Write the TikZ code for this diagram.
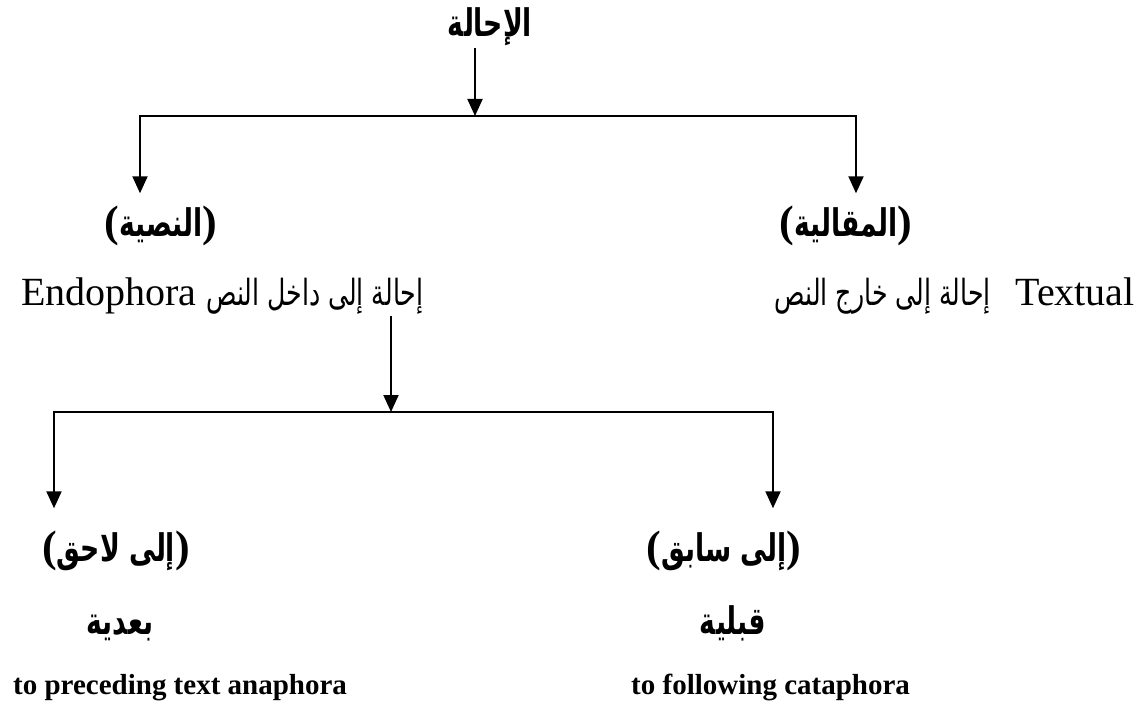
\documentclass[tikz,border=0pt]{standalone}
\usepackage{fontspec}
\setmainfont{Liberation Serif}
\newfontfamily\arabicfont[Script=Arabic,FakeStretch=0.7]{DejaVu Sans}
\TeXXeTstate=1
\usetikzlibrary{arrows.meta}
\newcommand{\prn}[1]{{\rmfamily\fontsize{44}{48}\selectfont(}\beginR #1\endR{\rmfamily\fontsize{44}{48}\selectfont)}}
\tikzset{
  lbl/.style={inner sep=2pt, anchor=base, font=\arabicfont\bfseries\fontsize{38}{42}\selectfont},
  phr/.style={inner sep=2pt, font=\arabicfont\fontsize{36}{40}\selectfont},
  lat/.style={inner sep=2pt, font=\fontsize{40}{44}\selectfont},
  eng/.style={inner sep=2pt, anchor=base west, font=\bfseries\fontsize{29}{32}\selectfont},
  arr/.style={-{Triangle[length=17pt,width=15pt]}, line width=2pt},
}

\begin{document}
\begin{tikzpicture}[x=1pt,y=-1pt]
  \useasboundingbox (0,0) rectangle (1146,706);
  % first level
  \node (ihala) at (490,37) [lbl] {\beginR الإحالة\endR};
  \node (nassiya) at (161,236) [lbl] {\prn{النصية}};
  \node (maqaliya) at (846,236) [lbl] {\prn{المقالية}};
  \node (endo) at (19,305) [lat, anchor=base west] {Endophora};
  \node (dakhil) at (204,305) [phr, anchor=base west] {\beginR إحالة إلى داخل النص\endR};
  \node (kharij) at (993,305) [phr, anchor=base east] {\beginR إحالة إلى خارج النص\endR};
  \node (textual) at (1137,305) [lat, anchor=base east] {Textual};
  % second level
  \node (lahiq) at (116,561) [lbl] {\prn{إلى لاحق}};
  \node (sabiq) at (724,561) [lbl] {\prn{إلى سابق}};
  \node (baadiya) at (120,634) [lbl] {\beginR بعدية\endR};
  \node (qabliya) at (733,634) [lbl] {\beginR قبلية\endR};
  \node (anaph) at (11,694) [eng] {to preceding text anaphora};
  \node (cataph) at (629,694) [eng] {to following cataphora};

  \coordinate (j1) at (475,116);
  \coordinate (l1) at (140,116);
  \coordinate (r1) at (856,116);
  \coordinate (j2) at (391,412);
  \coordinate (l2) at (54,412);
  \coordinate (r2) at (773,412);

  \draw[arr] (ihala.south -| j1) -- (j1);
  \draw[arr, shorten >=10pt] (j1) -- (l1) -- (l1 |- nassiya.north);
  \draw[arr, shorten >=10pt] (j1) -- (r1) -- (r1 |- maqaliya.north);
  \draw[arr] (dakhil.south -| j2) -- (j2);
  \draw[arr, shorten >=20pt] (j2) -- (l2) -- (l2 |- lahiq.north);
  \draw[arr, shorten >=20pt] (j2) -- (r2) -- (r2 |- sabiq.north);
\end{tikzpicture}
\end{document}
